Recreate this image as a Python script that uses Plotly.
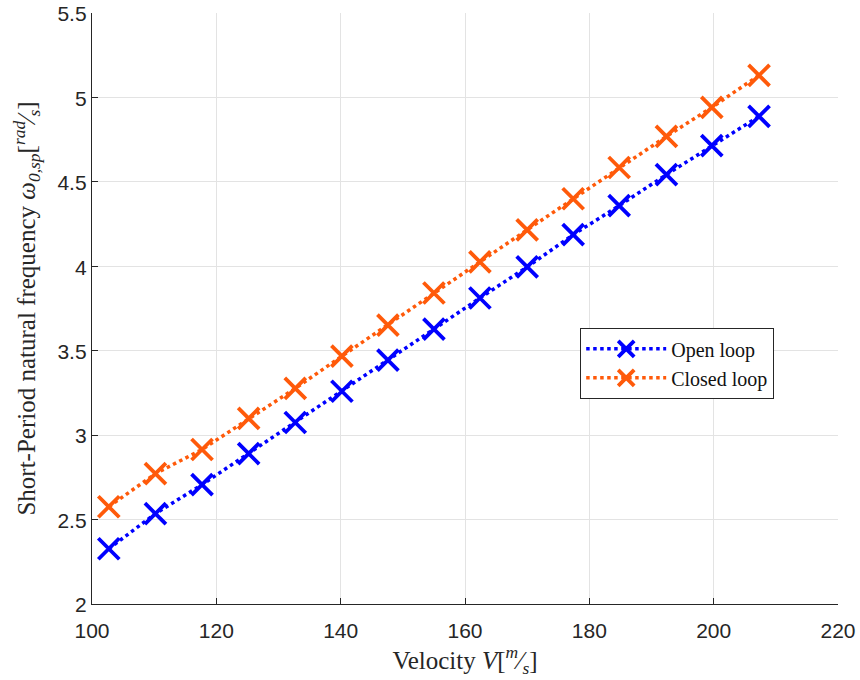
import plotly.graph_objects as go

velocity = [102.7, 110.2, 117.7, 125.2, 132.7, 140.2, 147.6, 155.0, 162.4, 170.0, 177.4, 184.8, 192.4, 199.7, 207.3]
open_loop = [2.327, 2.535, 2.707, 2.891, 3.075, 3.260, 3.444, 3.628, 3.812, 3.996, 4.187, 4.359, 4.543, 4.715, 4.888]
closed_loop = [2.576, 2.772, 2.915, 3.099, 3.277, 3.468, 3.652, 3.842, 4.026, 4.216, 4.400, 4.585, 4.769, 4.941, 5.131]

x_ticks = [100, 120, 140, 160, 180, 200, 220]
y_ticks = [2, 2.5, 3, 3.5, 4, 4.5, 5, 5.5]
y_tick_labels = ["2", "2.5", "3", "3.5", "4", "4.5", "5", "5.5"]

BLUE = "rgb(0,0,255)"
ORANGE = "rgb(255,90,10)"
SERIF = "Liberation Serif, DejaVu Serif, serif"
SANS = "Liberation Sans, Arial, sans-serif"

fig = go.Figure()
for name, ys, col in [("Open loop", open_loop, BLUE), ("Closed loop", closed_loop, ORANGE)]:
    fig.add_trace(go.Scatter(
        x=velocity, y=ys, name=name, mode="lines+markers",
        line=dict(color=col, width=3.5, dash="dot"),
        marker=dict(symbol="x-thin", size=21, line=dict(color=col, width=3.8)),
        hoverinfo="skip",
    ))

axis_common = dict(
    showgrid=True, gridcolor="#e3e3e3", gridwidth=1,
    showline=True, linecolor="#262626", linewidth=1.3, mirror=False,
    ticks="inside", ticklen=6, tickwidth=1.3, tickcolor="#262626",
    tickfont=dict(family=SANS, size=21, color="#262626"),
    zeroline=False, automargin=False, ticklabeloverflow="allow",
)

fig.update_layout(
    width=860, height=680,
    paper_bgcolor="white", plot_bgcolor="white",
    margin=dict(l=92, r=22, t=13, b=76),
    xaxis=dict(range=[100, 220], tickvals=x_ticks, **axis_common, ticklabelstandoff=8,
               title=dict(text="Velocity <i>V</i>[<sup><i>m</i></sup>⁄<sub><i>s</i></sub>]",
                          font=dict(family=SERIF, size=25, color="#262626"), standoff=1)),
    yaxis=dict(range=[2, 5.5], tickvals=y_ticks, ticktext=y_tick_labels, **axis_common,
               ticklabelshift=1,
               title=dict(text="Short-Period natural frequency <i>ω</i><sub><i>0,sp</i></sub>[<sup><i>rad</i></sup>⁄<sub><i>s</i></sub>]",
                          font=dict(family=SERIF, size=25, color="#262626"), standoff=14)),
    legend=dict(x=0.654, y=0.467, xanchor="left", yanchor="top",
                bgcolor="white", bordercolor="#262626", borderwidth=1.3,
                font=dict(family=SERIF, size=20, color="#111111"),
                itemwidth=80, tracegroupgap=0),
    showlegend=True,
)

# remove the browser's default 8px body margin so the figure fills the window exactly
fig.write_html("out.html", config={"displayModeBar": False},
               post_script="document.body.style.margin='0';")
